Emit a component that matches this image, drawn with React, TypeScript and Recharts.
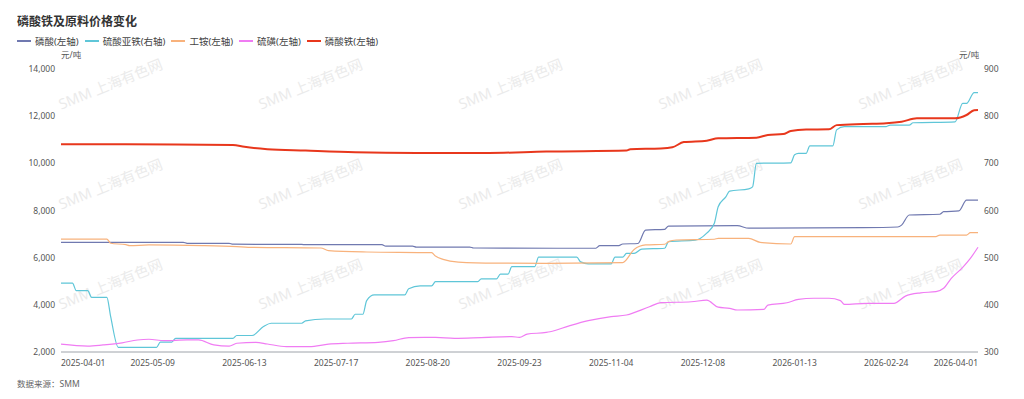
import React from 'react';
import { LineChart, Line, XAxis, YAxis } from 'recharts';

// x positions are trading-day indexes (0 = 2025-04-01, 240 = 2026-04-01)
const DATE_TICKS = [
  '2025-04-01', '2025-05-09', '2025-06-13', '2025-07-17', '2025-08-20', '2025-09-23',
  '2025-11-04', '2025-12-08', '2026-01-13', '2026-02-24', '2026-04-01',
];
const TICK_INDEX = [0, 24, 48, 72, 96, 120, 144, 168, 192, 216, 240];
const LEFT_TICKS = [2000, 4000, 6000, 8000, 10000, 12000, 14000];
const RIGHT_TICKS = [300, 400, 500, 600, 700, 800, 900];

// 磷酸 (left axis)
const phosphoricAcid: [number, number][] = [
  [0, 6650], [32, 6650], [33, 6610], [44, 6610], [45, 6570], [63, 6560], [64, 6550],
  [84, 6550], [85, 6490], [92, 6490], [93, 6450], [107, 6450], [108, 6410], [130, 6400],
  [140, 6400], [141, 6510], [146, 6510], [147, 6580], [151, 6600], [153, 7170], [158, 7200],
  [159, 7340], [177, 7355], [180, 7250], [210, 7270], [219, 7300], [220, 7380], [222, 7810],
  [230, 7840], [231, 7950], [235, 7980], [237, 8440], [240, 8440],
];

// 硫酸亚铁 (right axis)
const ferrousSulfate: [number, number][] = [
  [0, 446], [3, 446], [4, 430], [7, 430], [8, 416], [12, 416], [13, 375], [15, 310],
  [25, 310], [26, 321], [29, 321], [30, 329], [45, 329], [46, 335], [50, 335], [53, 354],
  [55, 361], [63, 361], [64, 366], [69, 370], [76, 370], [77, 380], [79, 380], [80, 409],
  [82, 421], [90, 421], [91, 434], [94, 440], [97, 440], [98, 449], [109, 449], [110, 455],
  [114, 455], [115, 465], [117, 465], [118, 481], [124, 481], [125, 501], [135, 501],
  [136, 491], [138, 487], [144, 487], [145, 501], [147, 501], [148, 509], [150, 509],
  [152, 518], [158, 520], [159, 534], [166, 537], [169, 552], [171, 573], [172, 608],
  [174, 629], [175, 641], [180, 646], [181, 650], [182, 700], [191, 701], [192, 718],
  [193, 721], [195, 721], [196, 737], [202, 737], [203, 771], [205, 778], [216, 778],
  [217, 781], [222, 781], [223, 786], [234, 788], [236, 827], [237, 827], [239, 850],
  [240, 850],
];

// 工铵 (left axis)
const ammonium: [number, number][] = [
  [0, 6790], [12, 6790], [13, 6610], [17, 6550], [18, 6510], [23, 6540], [37, 6510],
  [46, 6465], [49, 6440], [68, 6410], [70, 6300], [80, 6240], [97, 6210], [98, 6070],
  [100, 5930], [104, 5815], [114, 5770], [127, 5760], [147, 5790], [150, 6350], [153, 6540],
  [158, 6570], [159, 6680], [161, 6750], [171, 6780], [172, 6820], [180, 6820], [183, 6650],
  [191, 6580], [192, 6890], [229, 6890], [230, 6960], [237, 6960], [238, 7060], [240, 7060],
];

// 硫磺 (left axis)
const sulfur: [number, number][] = [
  [0, 2330], [7, 2250], [11, 2300], [16, 2390], [20, 2510], [23, 2540], [27, 2480],
  [33, 2510], [36, 2510], [40, 2300], [44, 2250], [46, 2370], [51, 2410], [54, 2340],
  [59, 2230], [65, 2230], [70, 2330], [75, 2370], [83, 2410], [87, 2480], [91, 2610],
  [98, 2620], [103, 2580], [110, 2610], [118, 2650], [120, 2620], [122, 2760], [127, 2830],
  [128, 2860], [133, 3110], [138, 3330], [144, 3500], [148, 3570], [154, 3920], [157, 4090],
  [165, 4130], [169, 4200], [172, 3900], [175, 3850], [177, 3780], [184, 3810], [185, 3990],
  [190, 4090], [193, 4230], [197, 4280], [201, 4280], [204, 4180], [205, 4020], [211, 4065],
  [218, 4065], [221, 4370], [225, 4510], [229, 4560], [231, 4700], [233, 5120], [236, 5590],
  [238, 5970], [240, 6440],
];

// 磷酸铁 (left axis)
const ironPhosphate: [number, number][] = [
  [0, 10810], [30, 10800], [45, 10780], [48, 10700], [54, 10600], [64, 10540], [77, 10470],
  [93, 10440], [112, 10440], [127, 10500], [148, 10540], [149, 10600], [157, 10630],
  [160, 10680], [163, 10900], [169, 10960], [172, 11060], [182, 11090], [185, 11200],
  [189, 11240], [191, 11370], [195, 11430], [201, 11440], [203, 11620], [210, 11670],
  [216, 11700], [220, 11765], [224, 11910], [234, 11910], [237, 12050], [239, 12250],
  [240, 12260],
];

const toPoints = (rows: [number, number][]) => rows.map(([i, v]) => ({ i, v }));

const SERIES = [
  { name: '磷酸(左轴)', color: '#7079b0', rows: phosphoricAcid, axis: 'left', width: 1.2 },
  { name: '硫酸亚铁(右轴)', color: '#5fc6d8', rows: ferrousSulfate, axis: 'right', width: 1.2 },
  { name: '工铵(左轴)', color: '#f8b27c', rows: ammonium, axis: 'left', width: 1.2 },
  { name: '硫磺(左轴)', color: '#f07cf3', rows: sulfur, axis: 'left', width: 1.2 },
  { name: '磷酸铁(左轴)', color: '#e8371c', rows: ironPhosphate, axis: 'left', width: 2 },
];

const FONT = '"Noto Sans", "Noto Sans CJK SC", sans-serif';
const WATERMARK_X = [110, 310, 510, 710, 910];
const WATERMARK_Y = [83, 183, 283];

function DateTick(props: any) {
  const { x, y, payload } = props;
  const k = TICK_INDEX.indexOf(payload.value);
  const anchor = k === 0 ? 'start' : k === TICK_INDEX.length - 1 ? 'end' : 'middle';
  return (
    <text x={x} y={y} dy="0.71em" textAnchor={anchor} fontSize={8.5} fill="#555">
      {DATE_TICKS[k]}
    </text>
  );
}

export default function App() {
  return (
    <div style={{ position: 'absolute', left: 0, top: 0, width: 1024, height: 399, background: '#fff', fontFamily: FONT, overflow: 'hidden' }}>
      <div style={{ position: 'absolute', left: 0, top: 0, width: 1024, height: 372 }}>
        {WATERMARK_Y.map((wy) =>
          WATERMARK_X.map((wx) => (
            <span
              key={`${wx}-${wy}`}
              style={{
                position: 'absolute', left: wx, top: wy, whiteSpace: 'nowrap', fontSize: 14.5,
                color: '#ebebeb', transform: 'translate(-50%, -50%) rotate(-22deg)',
              }}
            >
              SMM 上海有色网
            </span>
          )),
        )}
      </div>

      <div style={{ position: 'absolute', left: 17, top: 12, fontSize: 12, fontWeight: 700, color: '#333' }}>
        磷酸铁及原料价格变化
      </div>

      <div style={{ position: 'absolute', left: 17, top: 34, display: 'flex', alignItems: 'center', fontSize: 9.5, color: '#444' }}>
        {SERIES.map((s) => (
          <div key={s.name} style={{ display: 'flex', alignItems: 'center', marginRight: 6 }}>
            <span style={{ display: 'inline-block', width: 14, height: 2, background: s.color, marginRight: 4 }} />
            <span>{s.name}</span>
          </div>
        ))}
      </div>

      <div style={{ position: 'absolute', left: 61, top: 48, fontSize: 8.5, color: '#555' }}>元/吨</div>
      <div style={{ position: 'absolute', left: 959, top: 48, fontSize: 8.5, color: '#555' }}>元/吨</div>

      <div style={{ position: 'absolute', left: 0, top: 0 }}>
        <LineChart width={1024} height={399} margin={{ top: 69, right: 0, bottom: 17, left: 0 }}>
          <XAxis
            dataKey="i"
            type="number"
            domain={[0, 240]}
            ticks={TICK_INDEX}
            interval={0}
            height={30}
            tickLine={false}
            tickSize={0}
            tickMargin={8}
            axisLine={{ stroke: '#9ea3aa' }}
            tick={<DateTick />}
          />
          <YAxis
            yAxisId="left"
            orientation="left"
            width={61}
            domain={[2000, 14000]}
            ticks={LEFT_TICKS}
            axisLine={false}
            tickLine={false}
            tickSize={0}
            tickMargin={6}
            tick={{ fontSize: 8.5, fill: '#555' }}
            tickFormatter={(v: number) => v.toLocaleString('en-US')}
          />
          <YAxis
            yAxisId="right"
            orientation="right"
            width={46}
            domain={[300, 900]}
            ticks={RIGHT_TICKS}
            axisLine={false}
            tickLine={false}
            tickSize={0}
            tickMargin={6}
            tick={{ fontSize: 8.5, fill: '#555' }}
          />
          {SERIES.map((s) => (
            <Line
              key={s.name}
              data={toPoints(s.rows)}
              dataKey="v"
              name={s.name}
              yAxisId={s.axis}
              type="monotone"
              stroke={s.color}
              strokeWidth={s.width}
              dot={false}
              activeDot={false}
              isAnimationActive={false}
            />
          ))}
        </LineChart>
      </div>

      <div style={{ position: 'absolute', left: 17, top: 377, fontSize: 8.5, color: '#666' }}>数据来源：SMM</div>
    </div>
  );
}
